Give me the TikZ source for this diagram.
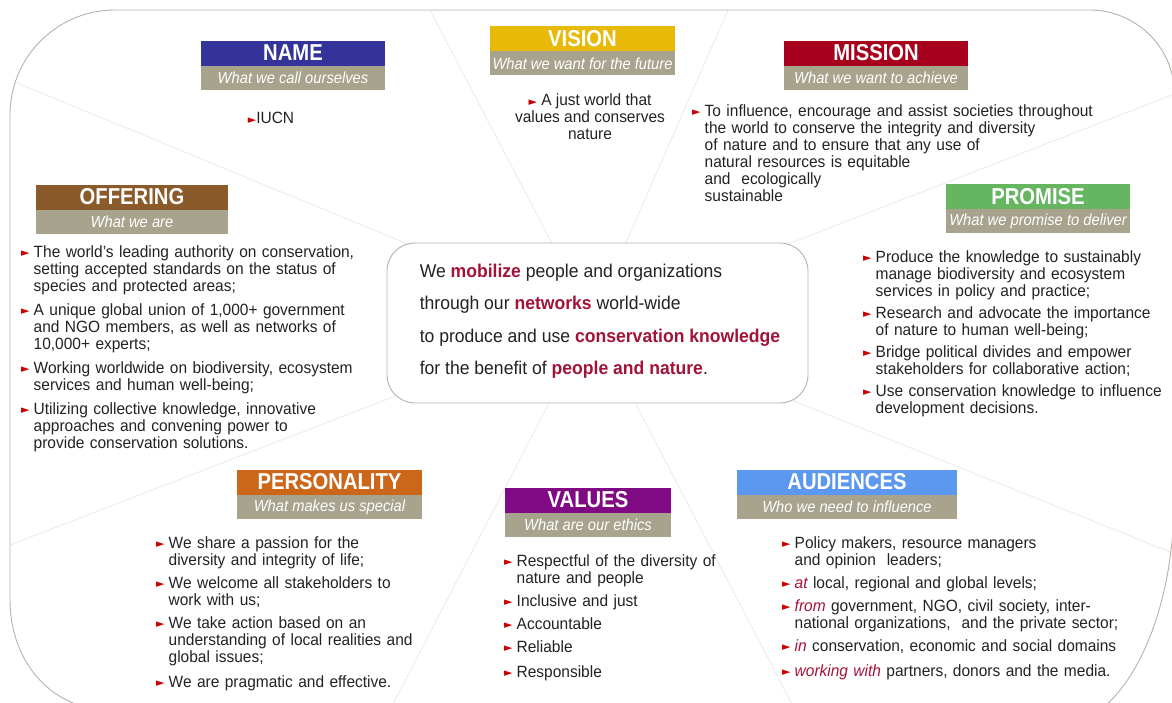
\documentclass[tikz,border=0pt]{standalone}
\usepackage{fontspec}
\setmainfont[FakeStretch=0.95]{Liberation Sans}
\newfontfamily\headfont[FakeStretch=0.88]{Liberation Sans}
\newfontfamily\subfont[FakeStretch=0.92]{Liberation Sans}
\newfontfamily\symfont{DejaVu Sans}
\usetikzlibrary{positioning}

\definecolor{namecol}{HTML}{333399}
\definecolor{visioncol}{HTML}{E9B908}
\definecolor{missioncol}{HTML}{A6001C}
\definecolor{offercol}{HTML}{8B5A2B}
\definecolor{promisecol}{HTML}{66B561}
\definecolor{perscol}{HTML}{CC6619}
\definecolor{valuescol}{HTML}{7F0A84}
\definecolor{audcol}{HTML}{5C97F0}
\definecolor{subgray}{HTML}{A7A38D}
\definecolor{bulred}{HTML}{CC0000}
\definecolor{emred}{HTML}{A31238}
\definecolor{txtgray}{HTML}{222222}
\definecolor{framegray}{HTML}{B4B2AA}
\definecolor{spokegray}{HTML}{EAEAEA}

\newcommand\bul{\textcolor{bulred}{\raisebox{0.6pt}{\symfont\fontsize{11}{11}\selectfont ►}}}
\newcommand\fitem{\hangindent=12.5pt\hangafter=1\noindent\makebox[12.5pt][l]{\bul}}
\newcommand\bitem{\par\fitem}
\newcommand\litem{\par\vspace{2.5pt}\fitem}
\newcommand\hl[1]{{\bfseries\color{emred}#1}}
\newcommand\rit[1]{{\itshape\color{emred}#1}}

\begin{document}
\begin{tikzpicture}[x=1pt,y=-1pt,node distance=0pt]
\tikzstyle{title}=[minimum height=25pt,inner sep=0pt,text=white,font=\headfont\bfseries\fontsize{23}{23}\selectfont]
\tikzstyle{subtitle}=[fill=subgray,minimum height=24pt,inner sep=0pt,text=white,font=\subfont\itshape\fontsize{16}{16}\selectfont]
\tikzstyle{blist}=[anchor=north west,inner sep=0pt,text width=420pt,text=txtgray,font=\fontsize{16.3}{17}\selectfont,execute at begin node={\setlength{\parskip}{6pt}}]
\tikzstyle{spoke}=[draw=spokegray,line width=0.8pt]

\useasboundingbox (0,0) rectangle (1172,702);

% frame and spokes
\begin{scope}
\clip (10,600) -- (10,115) .. controls (10,57) and (57,10) .. (115,10) -- (1090,10)
  .. controls (1135,10) and (1174,47) .. (1174,92) -- (1174,500)
  .. controls (1174,600) and (1140,680) .. (1100,710) -- (110,710)
  .. controls (50,710) and (10,660) .. cycle;
\coordinate (hub) at (592,320);
\foreach \p in {(10,80),(430,10),(728,10),(1190,88),(1190,560),(795,710),(390,710),(10,545)}
  \draw[spoke] (hub) -- \p;
\end{scope}
\draw[framegray,line width=0.9pt] (10,600) -- (10,115) .. controls (10,57) and (57,10) .. (115,10) -- (1090,10)
  .. controls (1135,10) and (1174,47) .. (1174,92) -- (1174,500)
  .. controls (1174,600) and (1140,680) .. (1100,710) -- (110,710)
  .. controls (50,710) and (10,660) .. cycle;

% core statement
\node[draw=framegray,fill=white,line width=0.9pt,rounded corners=28pt,minimum width=421pt,minimum height=160pt] (core) at (597.5,323) {};
\node[anchor=west,align=left,inner sep=0pt,text=txtgray,font=\fontsize{18.5}{32.5}\selectfont] (coretxt) at ([xshift=33pt,yshift=2pt]core.west)
  {We \hl{mobilize} people and organizations\\
   through our \hl{networks} world-wide\\
   to produce and use \hl{conservation knowledge}\\
   for the benefit of \hl{people and nature}.};

% headers
\node[title,fill=namecol,minimum width=184pt] (name) at (293,53) {NAME};
\node[subtitle,minimum width=184pt,below=of name] (namesub) {What we call ourselves};
\node[title,fill=visioncol,minimum width=185pt] (vision) at (582.5,38.5) {VISION};
\node[subtitle,minimum width=185pt,below=of vision] (visionsub) {What we want for the future};
\node[title,fill=missioncol,minimum width=184pt] (mission) at (876,53) {MISSION};
\node[subtitle,minimum width=184pt,below=of mission] (missionsub) {What we want to achieve};
\node[title,fill=offercol,minimum width=192pt] (offering) at (132,197) {OFFERING};
\node[subtitle,minimum width=192pt,below=of offering] (offeringsub) {What we are};
\node[title,fill=promisecol,minimum width=184pt] (promise) at (1038,196.5) {PROMISE};
\node[subtitle,minimum width=184pt,below=of promise] (promisesub) {What we promise to deliver};
\node[title,fill=perscol,minimum width=185pt] (personality) at (329.5,482) {PERSONALITY};
\node[subtitle,minimum width=185pt,below=of personality] (personalitysub) {What makes us special};
\node[title,fill=valuescol,minimum width=166pt] (values) at (588,500) {VALUES};
\node[subtitle,minimum width=166pt,below=of values] (valuessub) {What are our ethics};
\node[title,fill=audcol,minimum width=220pt] (audiences) at (847,482) {AUDIENCES};
\node[subtitle,minimum width=220pt,below=of audiences] (audiencessub) {Who we need to influence};

% contents
\node[inner sep=0pt,text=txtgray,font=\fontsize{16.3}{17}\selectfont] (nametxt) at (271,118) {\bul IUCN};
\node[inner sep=0pt,align=center,text=txtgray,font=\fontsize{16.3}{17}\selectfont] (visiontxt) at (590,117)
  {\bul\ A just world that\\ values and conserves\\ nature};
\node[blist] (missiontxt) at (692,104)
  {\fitem To influence, encourage and assist societies throughout\newline
   the world to conserve the integrity and diversity\newline
   of nature and to ensure that any use of\newline
   natural resources is equitable\newline
   and \ ecologically\newline
   sustainable\par};
\node[blist,execute at begin node={\setlength{\parskip}{7pt}}] (offeringtxt) at (21,245)
  {\fitem The world's leading authority on conservation,\newline
   setting accepted standards on the status of\newline
   species and protected areas;
   \bitem A unique global union of 1,000+ government\newline
   and NGO members, as well as networks of\newline
   10,000+ experts;
   \bitem Working worldwide on biodiversity, ecosystem\newline
   services and human well-being;
   \bitem Utilizing collective knowledge, innovative\newline
   approaches and convening power to\newline
   provide conservation solutions.\par};
\node[blist,execute at begin node={\setlength{\parskip}{5pt}}] (promisetxt) at (863,250)
  {\fitem Produce the knowledge to sustainably\newline
   manage biodiversity and ecosystem\newline
   services in policy and practice;
   \bitem Research and advocate the importance\newline
   of nature to human well-being;
   \bitem Bridge political divides and empower\newline
   stakeholders for collaborative action;
   \bitem Use conservation knowledge to influence\newline
   development decisions.\par};
\node[blist] (personalitytxt) at (156,536)
  {\fitem We share a passion for the\newline
   diversity and integrity of life;
   \bitem We welcome all stakeholders to\newline
   work with us;
   \bitem We take action based on an\newline
   understanding of local realities and\newline
   global issues;
   \litem We are pragmatic and effective.\par};
\node[blist] (valuestxt) at (504,554)
  {\fitem Respectful of the diversity of\newline
   nature and people
   \bitem Inclusive and just
   \bitem Accountable
   \bitem Reliable
   \litem Responsible\par};
\node[blist] (audiencestxt) at (782,536)
  {\fitem Policy makers, resource managers\newline
   and opinion \ leaders;
   \bitem \rit{at} local, regional and global levels;
   \bitem \rit{from} government, NGO, civil society, inter-\newline
   national organizations, \ and the private sector;
   \bitem \rit{in} conservation, economic and social domains
   \litem \rit{working with} partners, donors and the media.\par};
\end{tikzpicture}
\end{document}
